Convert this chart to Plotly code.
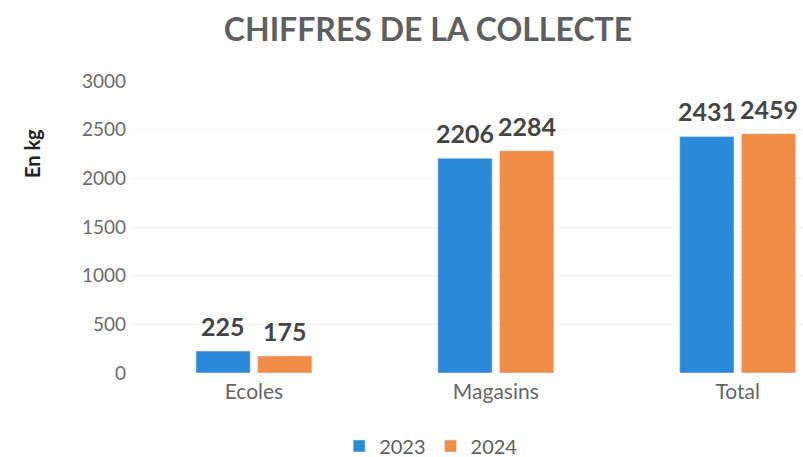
import plotly.graph_objects as go

categories = ["Ecoles", "Magasins", "Total"]
values_2023 = [225, 2206, 2431]
values_2024 = [175, 2284, 2459]
series_names = ["2023", "2024"]
y_ticks = [0, 500, 1000, 1500, 2000, 2500, 3000]

blue = "#2a8ad9"
orange = "#f28d48"
font_family = "Lato, 'Open Sans', sans-serif"

# layout parameters
L, R, T, B = 133, 0, 81, 84
W, H = 803, 457
x_range = [-0.5, 2.27]
bargap, bargroupgap = 0.49, 0.12
px_per_unit = (W - L - R) / (x_range[1] - x_range[0])
slot_px = (1 - bargap) / 2 * px_per_unit

fig = go.Figure()
series = [(series_names[0], values_2023, blue), (series_names[1], values_2024, orange)]
for name, vals, col in series:
    fig.add_trace(go.Bar(x=categories, y=vals, name=name, marker_color=col))

for j, (name, vals, col) in enumerate(series):
    for cat, v in zip(categories, vals):
        fig.add_annotation(x=cat, y=v, xref="x", yref="y", text=f"<b>{v}</b>",
                           showarrow=False, xanchor="center", yanchor="bottom",
                           xshift=(j - 0.5) * slot_px, yshift=8,
                           font=dict(family=font_family, size=25, color="#454545"))

fig.update_layout(
    width=W, height=H,
    margin=dict(l=L, r=R, t=T, b=B, autoexpand=False),
    paper_bgcolor="white", plot_bgcolor="white",
    barmode="group", bargap=bargap, bargroupgap=bargroupgap,
    title=dict(text="CHIFFRES DE LA COLLECTE", x=0.533, xanchor="center", y=0.935, yanchor="middle",
               font=dict(family=font_family, size=32, color="#5f5f5f", weight="bold")),
    showlegend=True,
    legend=dict(orientation="h", x=0.445, xanchor="center", y=-0.25, yanchor="middle",
                font=dict(family=font_family, size=20, color="#606060"), itemwidth=30,
                traceorder="normal", tracegroupgap=0),
    font=dict(family=font_family),
)
fig.update_xaxes(range=x_range, showline=False, showgrid=False, ticks="", automargin=False,
                 ticklabelstandoff=4,
                 tickfont=dict(family=font_family, size=21, color="#666666"))
fig.update_yaxes(range=[0, 3000], tickvals=y_ticks, showgrid=True, gridcolor="#f3f3f3",
                 zeroline=False, showline=False, ticks="", ticklabelstandoff=6, automargin=False,
                 tickfont=dict(family=font_family, size=19, color="#6b6b6b"))
fig.add_annotation(text="<b>En kg</b>", xref="paper", yref="paper", x=-0.1507, y=0.75,
                   xanchor="center", yanchor="middle", textangle=-90, showarrow=False,
                   font=dict(family=font_family, size=20, color="#222222"))

fig.write_html("out.html", config={"displayModeBar": False},
               post_script="document.body.style.margin='0';document.body.style.overflow='hidden';")
